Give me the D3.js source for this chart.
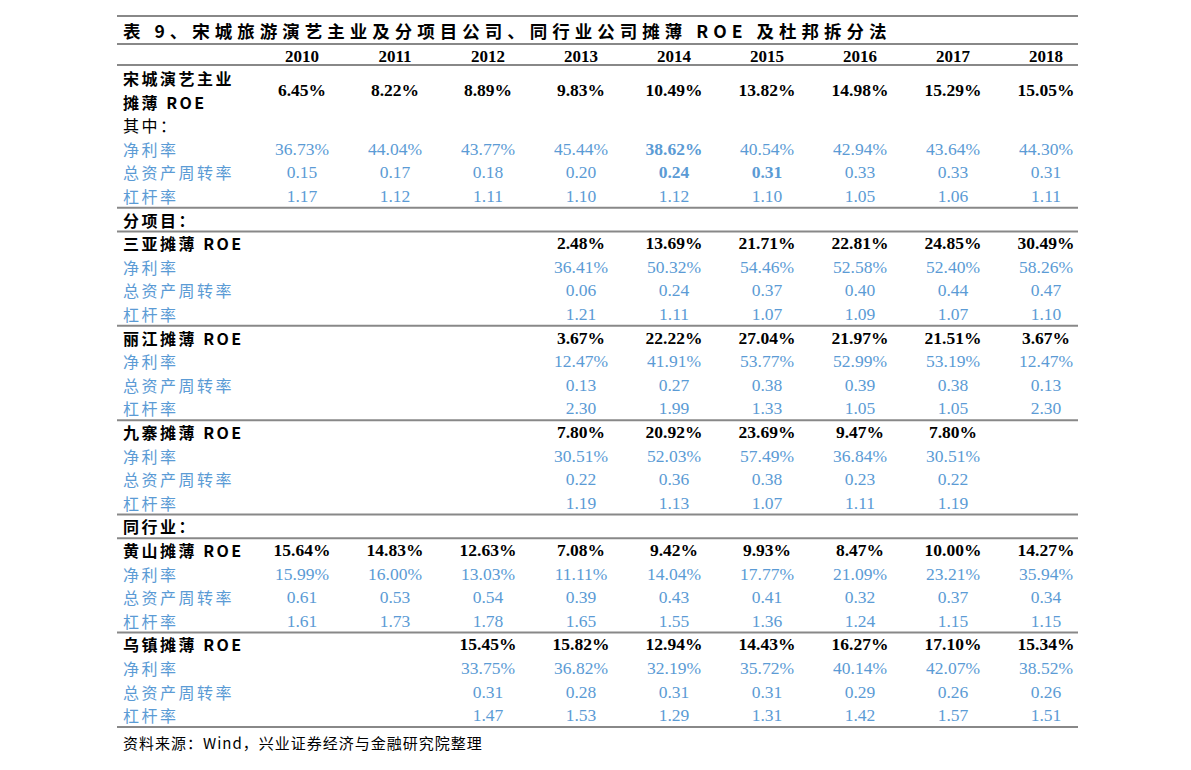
<!DOCTYPE html>
<html><head><meta charset="utf-8">
<script src="https://cdn.jsdelivr.net/npm/d3@7"></script>
<style>body{margin:0;background:#fff}</style>
</head><body>
<svg id="c" width="1191" height="770"></svg>
<script>
const title = "表 9、宋城旅游演艺主业及分项目公司、同行业公司摊薄 ROE 及杜邦拆分法";
const years = ["2010","2011","2012","2013","2014","2015","2016","2017","2018"];
const source = "资料来源：Wind，兴业证券经济与金融研究院整理";

const scRoe    = ["6.45%","8.22%","8.89%","9.83%","10.49%","13.82%","14.98%","15.29%","15.05%"];
const scMargin = ["36.73%","44.04%","43.77%","45.44%","38.62%","40.54%","42.94%","43.64%","44.30%"];
const scTurn   = ["0.15","0.17","0.18","0.20","0.24","0.31","0.33","0.33","0.31"];
const scLev    = ["1.17","1.12","1.11","1.10","1.12","1.10","1.05","1.06","1.11"];

const syRoe    = ["","","","2.48%","13.69%","21.71%","22.81%","24.85%","30.49%"];
const syMargin = ["","","","36.41%","50.32%","54.46%","52.58%","52.40%","58.26%"];
const syTurn   = ["","","","0.06","0.24","0.37","0.40","0.44","0.47"];
const syLev    = ["","","","1.21","1.11","1.07","1.09","1.07","1.10"];

const ljRoe    = ["","","","3.67%","22.22%","27.04%","21.97%","21.51%","3.67%"];
const ljMargin = ["","","","12.47%","41.91%","53.77%","52.99%","53.19%","12.47%"];
const ljTurn   = ["","","","0.13","0.27","0.38","0.39","0.38","0.13"];
const ljLev    = ["","","","2.30","1.99","1.33","1.05","1.05","2.30"];

const jzRoe    = ["","","","7.80%","20.92%","23.69%","9.47%","7.80%",""];
const jzMargin = ["","","","30.51%","52.03%","57.49%","36.84%","30.51%",""];
const jzTurn   = ["","","","0.22","0.36","0.38","0.23","0.22",""];
const jzLev    = ["","","","1.19","1.13","1.07","1.11","1.19",""];

const hsRoe    = ["15.64%","14.83%","12.63%","7.08%","9.42%","9.93%","8.47%","10.00%","14.27%"];
const hsMargin = ["15.99%","16.00%","13.03%","11.11%","14.04%","17.77%","21.09%","23.21%","35.94%"];
const hsTurn   = ["0.61","0.53","0.54","0.39","0.43","0.41","0.32","0.37","0.34"];
const hsLev    = ["1.61","1.73","1.78","1.65","1.55","1.36","1.24","1.15","1.15"];

const wzRoe    = ["","","15.45%","15.82%","12.94%","14.43%","16.27%","17.10%","15.34%"];
const wzMargin = ["","","33.75%","36.82%","32.19%","35.72%","40.14%","42.07%","38.52%"];
const wzTurn   = ["","","0.31","0.28","0.31","0.31","0.29","0.26","0.26"];
const wzLev    = ["","","1.47","1.53","1.29","1.31","1.42","1.57","1.51"];

const subLabels = ["净利率","总资产周转率","杠杆率"];

// row list: [label, values, kind]
const rows = [];
function block(name, roe, m, t, l) {
  rows.push([name, roe, "roe"]);
  [m, t, l].forEach((v, i) => rows.push([subLabels[i], v, "sub"]));
}
rows.push(["宋城演艺主业", null, "head2"]);
rows.push(["摊薄 ROE", null, "head2"]);
rows.push(["其中：", null, "plain"]);
[scMargin, scTurn, scLev].forEach((v, i) => rows.push([subLabels[i], v, "sub"]));
rows.push(["分项目：", null, "sec"]);
block("三亚摊薄 ROE", syRoe, syMargin, syTurn, syLev);
block("丽江摊薄 ROE", ljRoe, ljMargin, ljTurn, ljLev);
block("九寨摊薄 ROE", jzRoe, jzMargin, jzTurn, jzLev);
rows.push(["同行业：", null, "sec"]);
block("黄山摊薄 ROE", hsRoe, hsMargin, hsTurn, hsLev);
block("乌镇摊薄 ROE", wzRoe, wzMargin, wzTurn, wzLev);

const sepAfter = [5, 6, 10, 14, 18, 19, 23, 27];
const boldCells = new Set(["3-4", "4-4", "4-5"]); // row-col bold blue

const svg = d3.select("#c");
const x = d3.scalePoint().domain(years).range([302, 1046]);
const y = d3.scaleLinear().domain([0, 27]).range([78, 715.2]);
const left = 117, right = 1078, labelX = 123;
const blue = "#5b9bd5";
const cjk = "'Noto Sans CJK SC', sans-serif";
const serif = "'Liberation Serif', 'Times New Roman', serif";

function hline(yy, w) {
  svg.append("line").attr("x1", left).attr("x2", right).attr("y1", yy).attr("y2", yy)
    .attr("stroke", "#888").attr("stroke-width", w || 2);
}
hline(16); hline(44); hline(65);
sepAfter.forEach(i => hline(y(i + 0.5)));

svg.append("text").attr("x", labelX).attr("y", 30).attr("dominant-baseline", "central")
  .attr("font-family", cjk).attr("font-weight", "bold").attr("font-size", 17.5)
  .attr("letter-spacing", 5).text(title);

svg.selectAll(".yr").data(years).join("text")
  .attr("x", d => x(d)).attr("y", 56).attr("text-anchor", "middle").attr("dominant-baseline", "central")
  .attr("font-family", serif).attr("font-weight", "bold").attr("font-size", 17).text(d => d);

rows.forEach((r, i) => {
  const [label, vals, kind] = r;
  const isSub = kind === "sub";
  svg.append("text").attr("x", labelX).attr("y", y(i)).attr("dominant-baseline", "central")
    .attr("font-family", cjk).attr("font-size", 16).attr("letter-spacing", 2.5)
    .attr("font-weight", isSub || kind === "plain" ? "normal" : "bold")
    .attr("fill", isSub ? blue : "#000").text(label);
  if (vals) {
    svg.selectAll(null).data(vals).join("text")
      .attr("x", (d, j) => x(years[j])).attr("y", y(i))
      .attr("text-anchor", "middle").attr("dominant-baseline", "central")
      .attr("font-family", serif).attr("font-size", 17.5)
      .attr("font-weight", (d, j) => !isSub || boldCells.has(i + "-" + j) ? "bold" : "normal")
      .attr("fill", isSub ? blue : "#000").text(d => d);
  }
});
// 宋城 ROE values centered between its two label lines
svg.selectAll(".sc").data(scRoe).join("text")
  .attr("x", (d, j) => x(years[j])).attr("y", y(0.5))
  .attr("text-anchor", "middle").attr("dominant-baseline", "central")
  .attr("font-family", serif).attr("font-weight", "bold").attr("font-size", 17.5).text(d => d);

svg.append("text").attr("x", labelX).attr("y", 742).attr("dominant-baseline", "central")
  .attr("font-family", cjk).attr("font-size", 15).attr("letter-spacing", 1).text(source);
</script>
</body></html>
